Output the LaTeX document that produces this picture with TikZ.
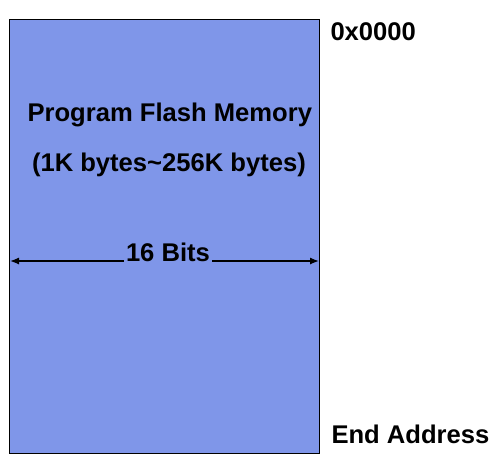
\documentclass[tikz,border=0pt]{standalone}
\usepackage{fontspec}
\setmainfont{Liberation Sans}
\usetikzlibrary{arrows.meta}
\definecolor{flashblue}{HTML}{7F96E9}

\begin{document}
\begin{tikzpicture}[x=1pt, y=-1pt, line width=1pt, >={Latex[length=9pt,width=7pt]},
    lbl/.style={font=\fontsize{25.6}{30}\selectfont\bfseries, inner sep=0pt, anchor=base west}]
    \useasboundingbox (0,0) rectangle (494,466);
    \filldraw [draw=black, fill=flashblue] (9.5,19) rectangle (319.5,453);
    \node (top) at (330,40.7) [lbl] {0x0000};
    \node (end) at (331,443.3) [lbl] {End Address};
    \node (prog) at (27,121) [lbl] {Program Flash Memory};
    \node (size) at (31.5,171.7) [lbl] {(1K bytes\textasciitilde256K bytes)};
    \node (bits) at (125.5,261.7) [lbl] {16 Bits};
    %
    \coordinate (L) at (10,261);
    \coordinate (R) at (319,261);
    \draw[->, line width=1.3pt] ([xshift=-2pt,yshift=0.7pt]bits.base west) -- (L);
    \draw[->, line width=1.3pt] ([xshift=2pt,yshift=0.7pt]bits.base east) -- (R);
\end{tikzpicture}
\end{document}
